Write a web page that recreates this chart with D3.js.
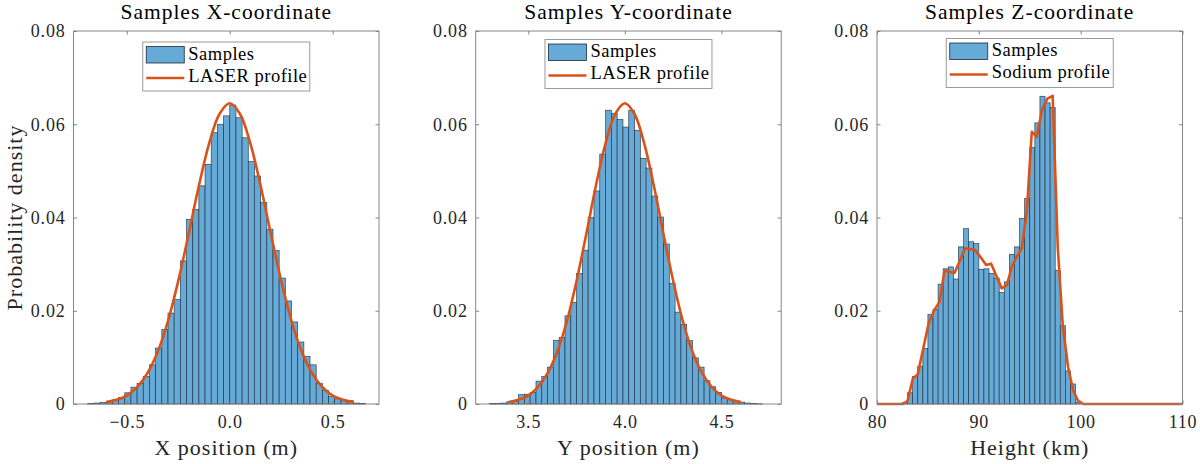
<!DOCTYPE html>
<html>
<head>
<meta charset="utf-8">
<script src="https://cdn.jsdelivr.net/npm/d3@7"></script>
<style>
  body { margin: 0; background: #fff; }
  svg { font-family: "Liberation Serif", "Times New Roman", serif; }
</style>
</head>
<body>
<div id="chart"></div>
<script>
// values
const yTicks = [0, 0.02, 0.04, 0.06, 0.08];
const yTickLabels = ["0", "0.02", "0.04", "0.06", "0.08"];

// X coordinate: bins of 0.03 m starting at -0.69 m
const xBinStart = -0.69;
const xBinWidth = 0.03;
const xHeights = [0.0001, 0.0002, 0.0003, 0.0005, 0.0009, 0.0014, 0.0024, 0.0036, 0.0044, 0.0059,
  0.0084, 0.0120, 0.0160, 0.0195, 0.0224, 0.0307, 0.0396, 0.0417, 0.0468, 0.0514,
  0.0582, 0.0600, 0.0618, 0.0641, 0.0614, 0.0571, 0.0520, 0.0489, 0.0432, 0.0375,
  0.0329, 0.0270, 0.0221, 0.0176, 0.0133, 0.0102, 0.0084, 0.0044, 0.0029, 0.0016,
  0.0011, 0.0007, 0.0007, 0.0002, 0.0001];
const xProfilePos = [-0.6, -0.55, -0.5, -0.45, -0.4, -0.35, -0.3, -0.25, -0.2, -0.15, -0.1, -0.05, 0,
  0.05, 0.1, 0.15, 0.2, 0.25, 0.3, 0.35, 0.4, 0.45, 0.5, 0.55, 0.6];
const xProfile = [0.0004, 0.0009, 0.0018, 0.0036, 0.0066, 0.0112, 0.0178, 0.0264, 0.0364, 0.0468, 0.0559, 0.0622, 0.0645,
  0.0622, 0.0559, 0.0468, 0.0364, 0.0264, 0.0178, 0.0112, 0.0066, 0.0036, 0.0018, 0.0009, 0.0004];
const xTicks = [-0.5, 0, 0.5];

// Y coordinate: bins of 0.03 m starting at 3.30 m
const yBinStart = 3.30;
const yBinWidth = 0.03;
const yHeights = [0.0001, 0.0001, 0.0002, 0.0005, 0.0006, 0.0020, 0.0021, 0.0025, 0.0049, 0.0059,
  0.0079, 0.0136, 0.0143, 0.0189, 0.0218, 0.0280, 0.0330, 0.0400, 0.0457, 0.0536,
  0.0630, 0.0623, 0.0610, 0.0594, 0.0630, 0.0587, 0.0527, 0.0506, 0.0446, 0.0401,
  0.0343, 0.0259, 0.0197, 0.0171, 0.0136, 0.0099, 0.0079, 0.0050, 0.0037, 0.0025,
  0.0013, 0.0010, 0.0006, 0.0004, 0.0002, 0.0001, 0.00005];
const yProfilePos = [3.4, 3.45, 3.5, 3.55, 3.6, 3.65, 3.7, 3.75, 3.8, 3.85, 3.9, 3.95, 4.0,
  4.05, 4.1, 4.15, 4.2, 4.25, 4.3, 4.35, 4.4, 4.45, 4.5, 4.55, 4.6];
const yProfile = xProfile.slice();
const yPosTicks = [3.5, 4, 4.5];

// Z coordinate: bins of 0.5 km starting at 82.5 km
const zBinStart = 82.5;
const zBinWidth = 0.5;
const zHeights = [0.0003, 0.0024, 0.0059, 0.0081, 0.0119, 0.0192, 0.0203, 0.0257, 0.0290, 0.0294,
  0.0268, 0.0337, 0.0376, 0.0348, 0.0344, 0.0289, 0.0290, 0.0280, 0.0270, 0.0239,
  0.0262, 0.0321, 0.0337, 0.0398, 0.0441, 0.0550, 0.0603, 0.0660, 0.0646, 0.0636,
  0.0286, 0.0168, 0.0071, 0.0043, 0.0004];
const zProfilePos = [80, 82.55, 83.0, 83.53, 83.99, 84.58, 85.07, 85.62, 86.14, 86.63, 87.61, 88.17, 88.66,
  89.64, 90.2, 90.72, 91.21, 91.76, 92.25, 92.75, 93.24, 93.73, 94.22, 94.71, 95.2, 95.69, 96.21,
  96.73, 97.25, 97.75, 98.24, 98.76, 99.25, 99.74, 100.26, 110];
const zProfile = [0, 0, 0.0007, 0.0055, 0.0063, 0.0123, 0.0173, 0.0201, 0.0219, 0.0286, 0.0281, 0.0309, 0.0334,
  0.0330, 0.0314, 0.0298, 0.0301, 0.0273, 0.0248, 0.0255, 0.0294, 0.0316, 0.0334, 0.0412, 0.0584, 0.0573, 0.0631,
  0.0655, 0.0661, 0.0337, 0.0169, 0.0080, 0.0030, 0.0007, 0, 0];
const zTicks = [80, 90, 100, 110];

const panels = [
  {title: "Samples X-coordinate", xlabel: "X position (m)", line: "LASER profile",
   left: 73.5, domain: [-0.759, 0.725], ticks: xTicks, binStart: xBinStart, binWidth: xBinWidth,
   heights: xHeights, px: xProfilePos, py: xProfile, smooth: true, legendTop: 42},
  {title: "Samples Y-coordinate", xlabel: "Y position (m)", line: "LASER profile",
   left: 475.7, domain: [3.228, 4.809], ticks: yPosTicks, binStart: yBinStart, binWidth: yBinWidth,
   heights: yHeights, px: yProfilePos, py: yProfile, smooth: true, legendTop: 39.5},
  {title: "Samples Z-coordinate", xlabel: "Height (km)", line: "Sodium profile",
   left: 877, domain: [80, 110], ticks: zTicks, binStart: zBinStart, binWidth: zBinWidth,
   heights: zHeights, px: zProfilePos, py: zProfile, smooth: false, legendTop: 38.5}
];

const W = 1200, H = 464;
const plotTop = 31, plotBottom = 404, plotW = 305.5;
const barFill = "#66aad7";
const lineColor = "#d95319";
const boxColor = "#858585";
const textColor = "#262626";

const svg = d3.select("#chart").append("svg")
  .attr("width", W)
  .attr("height", H);

const y = d3.scaleLinear().domain([0, 0.08]).range([plotBottom, plotTop]);

panels.forEach((p, pi) => {
  const x = d3.scaleLinear().domain(p.domain).range([p.left, p.left + plotW]);
  const g = svg.append("g");

  // histogram bars
  g.append("g").selectAll("rect")
    .data(p.heights)
    .join("rect")
    .attr("x", (d, i) => x(p.binStart + i * p.binWidth))
    .attr("width", (d, i) => x(p.binStart + (i + 1) * p.binWidth) - x(p.binStart + i * p.binWidth))
    .attr("y", d => y(d))
    .attr("height", d => y(0) - y(d))
    .attr("fill", barFill)
    .attr("stroke", "#1c2a36")
    .attr("stroke-opacity", 0.85)
    .attr("stroke-width", 0.7);

  // profile curve
  const line = d3.line()
    .x(d => x(d[0]))
    .y(d => y(d[1]))
    .curve(p.smooth ? d3.curveCatmullRom : d3.curveLinear);
  g.append("path")
    .datum(d3.zip(p.px, p.py))
    .attr("d", line)
    .attr("fill", "none")
    .attr("stroke", lineColor)
    .attr("stroke-width", 2.6)
    .attr("stroke-linejoin", "round");

  // axes with inward ticks on all four sides
  const axB = g.append("g")
    .attr("transform", `translate(0,${plotBottom})`)
    .call(d3.axisBottom(x).tickValues(p.ticks).tickSizeInner(-3.5).tickSizeOuter(0));
  axB.selectAll("text").attr("y", 24).attr("dy", null);
  g.append("g")
    .attr("transform", `translate(0,${plotTop})`)
    .call(d3.axisTop(x).tickValues(p.ticks).tickFormat("").tickSizeInner(-3.5).tickSizeOuter(0));
  const axL = g.append("g")
    .attr("transform", `translate(${p.left},0)`)
    .call(d3.axisLeft(y).tickValues(yTicks).tickFormat((d, i) => yTickLabels[i]).tickSizeInner(-3.5).tickSizeOuter(0));
  axL.selectAll("text").attr("x", -8).attr("dy", "0.33em");
  g.append("g")
    .attr("transform", `translate(${p.left + plotW},0)`)
    .call(d3.axisRight(y).tickValues(yTicks).tickFormat("").tickSizeInner(-3.5).tickSizeOuter(0));

  g.selectAll(".domain").remove();
  g.selectAll(".tick line").attr("stroke", boxColor);
  g.selectAll(".tick text")
    .attr("fill", textColor)
    .style("font-size", "18px")
    .style("letter-spacing", "0.8px")
    .style("font-family", "'Liberation Serif', serif");

  g.append("rect")
    .attr("x", p.left)
    .attr("y", plotTop)
    .attr("width", plotW)
    .attr("height", plotBottom - plotTop)
    .attr("fill", "none")
    .attr("stroke", boxColor)
    .attr("stroke-width", 1);

  // title and x label
  g.append("text")
    .attr("x", p.left + plotW / 2)
    .attr("y", 19.3)
    .attr("text-anchor", "middle")
    .attr("fill", "#000")
    .style("font-size", "21.5px")
    .style("letter-spacing", "1px")
    .text(p.title);

  g.append("text")
    .attr("x", p.left + plotW / 2)
    .attr("y", 455)
    .attr("text-anchor", "middle")
    .attr("fill", textColor)
    .style("font-size", "22px")
    .style("letter-spacing", "1px")
    .text(p.xlabel);

  if (pi === 0) {
    g.append("text")
      .attr("transform", `translate(21.5,${(plotTop + plotBottom) / 2}) rotate(-90)`)
      .attr("text-anchor", "middle")
      .attr("fill", textColor)
      .style("font-size", "22px")
      .style("letter-spacing", "1px")
      .text("Probability density");
  }

  // legend
  const lw = 167, lh = 49;
  const lx = p.left + plotW / 2 - lw / 2;
  const leg = g.append("g").attr("transform", `translate(${lx},${p.legendTop})`);
  leg.append("rect")
    .attr("width", lw)
    .attr("height", lh)
    .attr("fill", "#fff")
    .attr("stroke", "#9a9a9a")
    .attr("stroke-width", 1);
  leg.append("rect")
    .attr("x", 3.5)
    .attr("y", 4.5)
    .attr("width", 38)
    .attr("height", 16.5)
    .attr("fill", barFill)
    .attr("stroke", "#1c2a36")
    .attr("stroke-width", 0.8);
  leg.append("line")
    .attr("x1", 3.5)
    .attr("x2", 41.5)
    .attr("y1", 36)
    .attr("y2", 36)
    .attr("stroke", lineColor)
    .attr("stroke-width", 2.6);
  leg.append("text")
    .attr("x", 45.5)
    .attr("y", 17.8)
    .attr("fill", "#000")
    .style("font-size", "18.5px")
    .style("letter-spacing", "0.5px")
    .text("Samples");
  leg.append("text")
    .attr("x", 45.5)
    .attr("y", 39.5)
    .attr("fill", "#000")
    .style("font-size", "18.5px")
    .style("letter-spacing", "0.5px")
    .text(p.line);
});
</script>
</body>
</html>
